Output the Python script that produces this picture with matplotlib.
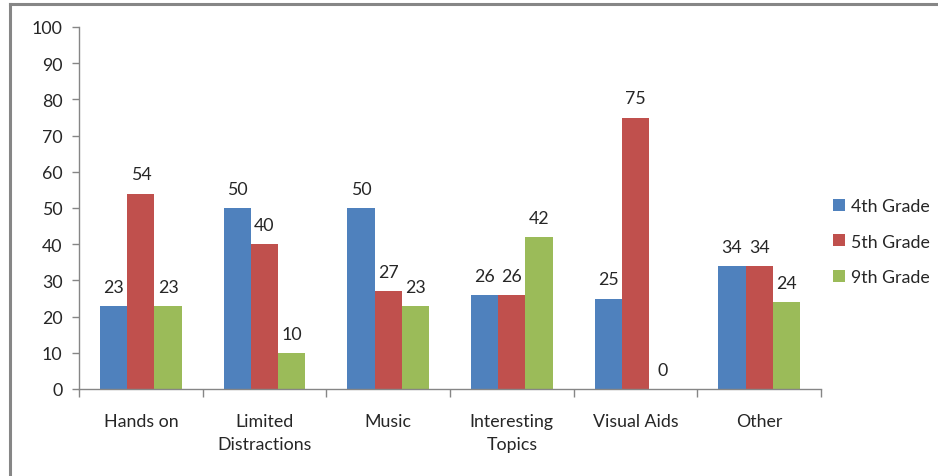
import matplotlib
matplotlib.use("Agg")
import matplotlib.pyplot as plt
import numpy as np
from matplotlib.lines import Line2D

categories = ["Hands on", "Limited\nDistractions", "Music", "Interesting\nTopics", "Visual Aids", "Other"]
series_names = ["4th Grade", "5th Grade", "9th Grade"]
grade4 = [23, 50, 50, 26, 25, 34]
grade5 = [54, 40, 27, 26, 75, 34]
grade9 = [23, 10, 23, 42, 0, 24]
y_ticks = [0, 10, 20, 30, 40, 50, 60, 70, 80, 90, 100]

colors = ["#4F81BD", "#C0504D", "#9BBB59"]
axis_gray = "#868686"
text_color = "#262626"
fs = 12.8

plt.rcParams["font.family"] = ["Lato", "DejaVu Sans"]

fig = plt.figure(figsize=(9.38, 4.77), dpi=100)
ax = fig.add_axes([79 / 938, 1 - 390 / 477, (821 - 79) / 938, (390 - 28) / 477])

x = np.arange(len(categories))
bar_w = 0.22
series = [grade4, grade5, grade9]
for i, (vals, col, name) in enumerate(zip(series, colors, series_names)):
    pos = x + (i - 1) * bar_w
    ax.bar(pos, vals, width=bar_w, color=col, label=name, zorder=2)
    for p, v in zip(pos, vals):
        ax.annotate(f"{v}", (p, v), xytext=(0, 8), textcoords="offset points",
                    ha="center", va="bottom", fontsize=fs, color=text_color)

ax.set_xlim(-0.5, len(categories) - 0.5)
ax.set_ylim(0, 100)
ax.set_yticks(y_ticks)
ax.tick_params(axis="y", length=5, width=1, color=axis_gray, labelsize=fs,
               labelcolor=text_color, pad=7)

# category labels centred under groups, ticks at the group boundaries
ax.set_xticks(np.arange(len(categories) + 1) - 0.5)
ax.set_xticklabels([])
ax.tick_params(axis="x", length=6, width=1, color=axis_gray)
ax.set_xticks(x, minor=True)
ax.set_xticklabels(categories, minor=True, fontsize=fs, color=text_color,
                   linespacing=1.55)
ax.tick_params(axis="x", which="minor", length=0, pad=17)

for side in ["top", "right"]:
    ax.spines[side].set_visible(False)
for side in ["left", "bottom"]:
    ax.spines[side].set_color(axis_gray)
    ax.spines[side].set_linewidth(1)

leg = fig.legend(loc="upper left", bbox_to_anchor=(826 / 938, 1 - 192 / 477),
                 frameon=False, fontsize=fs, handlelength=0.65, handleheight=0.65,
                 handletextpad=0.35, labelspacing=1.1, borderaxespad=0)
for t in leg.get_texts():
    t.set_color(text_color)

# outer chart frame (top and left edges)
frame_col = "#868686"
fig.add_artist(Line2D([9.5 / 938, 1], [1 - 4.5 / 477, 1 - 4.5 / 477],
                      transform=fig.transFigure, color=frame_col, lw=2.2))
fig.add_artist(Line2D([9.5 / 938, 9.5 / 938], [0, 1 - 4.5 / 477],
                      transform=fig.transFigure, color=frame_col, lw=2.2))

fig.savefig("out.png", dpi=100)
